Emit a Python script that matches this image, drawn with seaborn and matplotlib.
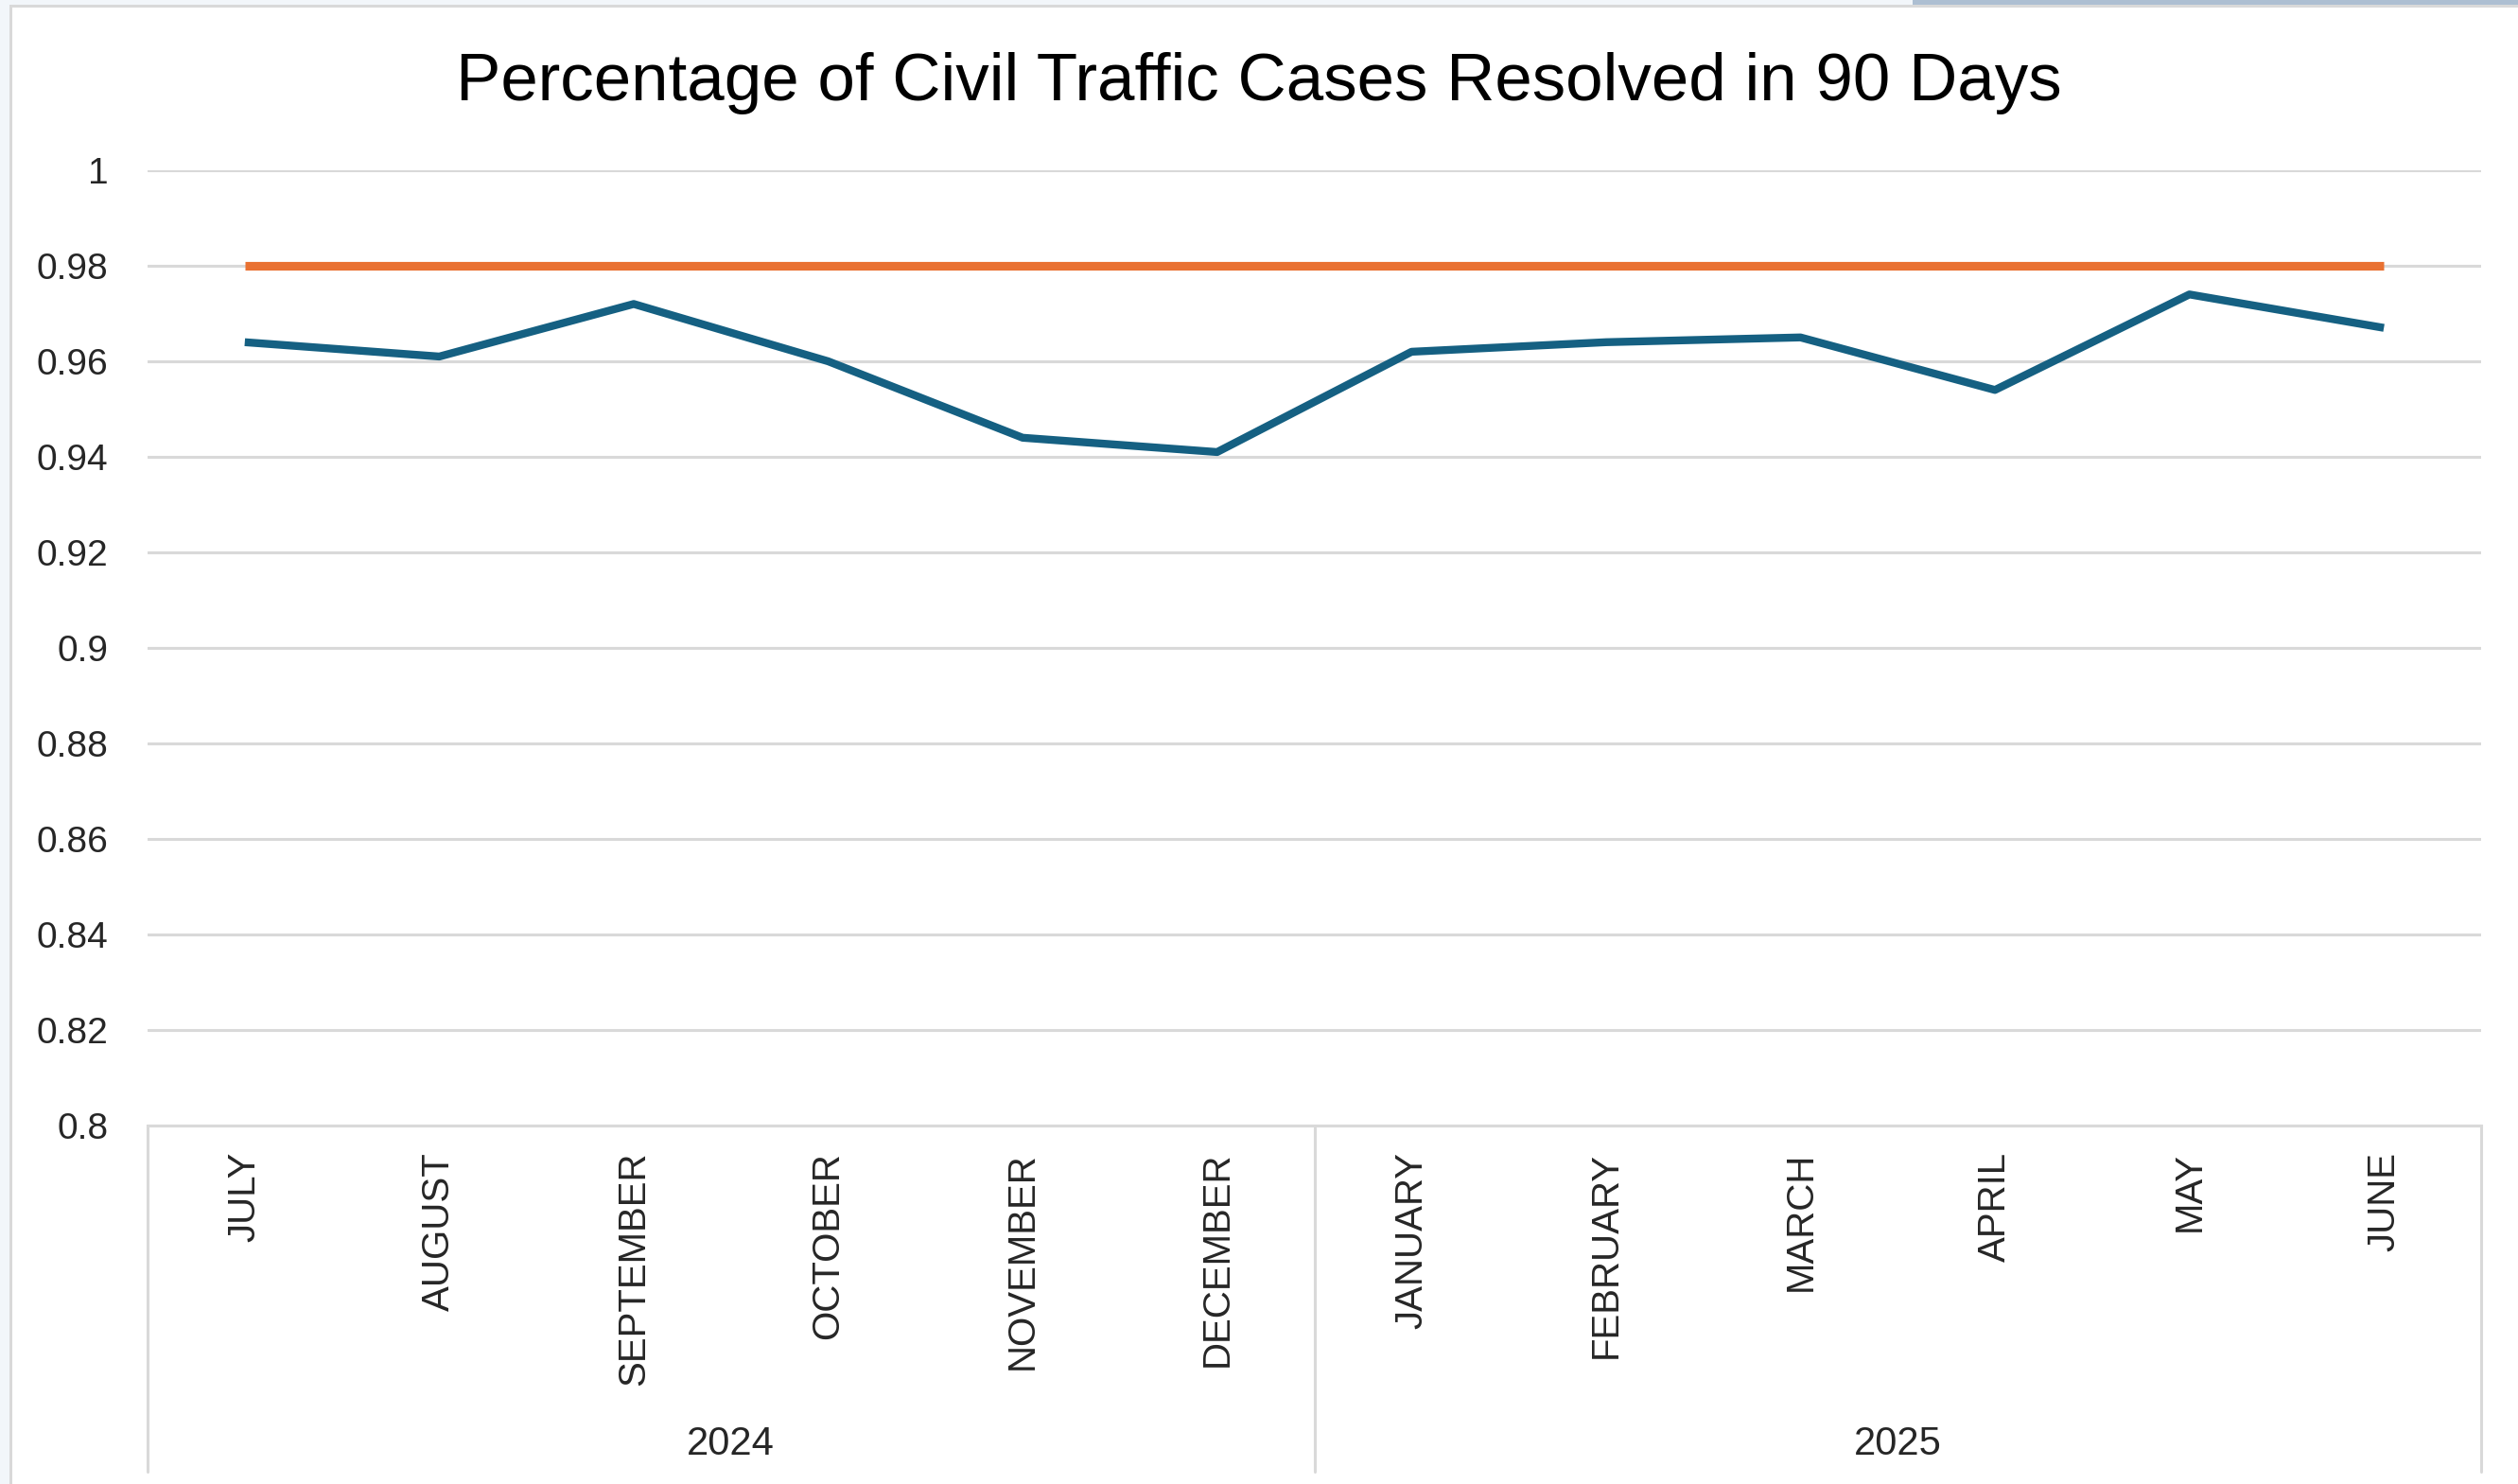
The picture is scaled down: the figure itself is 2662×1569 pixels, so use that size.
import matplotlib
matplotlib.use("Agg")
import matplotlib.pyplot as plt
from matplotlib.patches import Rectangle
import pandas as pd
import seaborn as sns

# chart data
months = ["JULY", "AUGUST", "SEPTEMBER", "OCTOBER", "NOVEMBER", "DECEMBER",
          "JANUARY", "FEBRUARY", "MARCH", "APRIL", "MAY", "JUNE"]
years = ["2024", "2025"]
months_per_year = [6, 6]
resolved = [0.964, 0.961, 0.972, 0.960, 0.944, 0.941,
            0.962, 0.964, 0.965, 0.954, 0.974, 0.967]
target = [0.98] * 12
y_ticks = [0.8, 0.82, 0.84, 0.86, 0.88, 0.9, 0.92, 0.94, 0.96, 0.98, 1]

BLUE = "#156082"
ORANGE = "#E97132"
GRID = "#D9D9D9"

sns.set_theme(style="white")
plt.rcParams["font.family"] = ["Liberation Sans", "DejaVu Sans"]

df = pd.DataFrame({"month": months, "resolved": resolved, "target": target})

fig = plt.figure(figsize=(26.62, 15.69), dpi=100)
ax = fig.add_axes([156 / 2662, 1 - 1190 / 1569, (2623 - 156) / 2662, (1190 - 180) / 1569])

sns.lineplot(data=df, x="month", y="target", sort=False, color=ORANGE,
             linewidth=6.6, ax=ax, solid_capstyle="butt", zorder=3)
sns.lineplot(data=df, x="month", y="resolved", sort=False, color=BLUE,
             linewidth=6.0, ax=ax, solid_capstyle="butt", zorder=4)

ax.set_xlim(-0.5, len(months) - 0.5)
ax.set_ylim(0.8, 1.0)
ax.set_yticks(y_ticks)
ax.set_yticklabels([f"{v:g}" for v in y_ticks], fontsize=28, color="#262626")
ax.set_xticks(range(len(months)))
ax.set_xticklabels(months, rotation=90, fontsize=29, color="#262626")
ax.tick_params(axis="y", length=0, pad=30)
ax.tick_params(axis="x", length=0, pad=20)
ax.set_xlabel("")
ax.set_ylabel("")

ax.yaxis.grid(True, color=GRID, linewidth=2.2)
ax.xaxis.grid(False)
ax.set_axisbelow(True)
for side in ["left", "right", "top"]:
    ax.spines[side].set_visible(False)
ax.spines["bottom"].set_color(GRID)
ax.spines["bottom"].set_linewidth(2.2)

# multi-level category axis: separators and year labels
trans = ax.get_xaxis_transform()
edge = -0.5
for yr, n in zip(years, months_per_year):
    ax.plot([edge, edge], [0, -0.362], transform=trans, color=GRID,
            linewidth=2.2, clip_on=False)
    ax.text(edge + n / 2, -0.334, yr, transform=trans, ha="center", va="center",
            fontsize=30, color="#262626")
    edge += n
ax.plot([edge, edge], [0, -0.362], transform=trans, color=GRID,
        linewidth=2.2, clip_on=False)

fig.text(0.5, 1 - 88 / 1569, "Percentage of Civil Traffic Cases Resolved in 90 Days",
         ha="center", va="center", fontsize=51, color="#000000")

# window frame around the chart
fig.add_artist(Rectangle((0, 0), 10 / 2662, 1, transform=fig.transFigure,
                         color="#F2F6FA", lw=0))
fig.add_artist(Rectangle((0, 1 - 5 / 1569), 1, 5 / 1569, transform=fig.transFigure,
                         color="#F2F6FA", lw=0))
fig.add_artist(Rectangle((2022 / 2662, 1 - 5 / 1569), 640 / 2662, 5 / 1569,
                         transform=fig.transFigure, color="#ADBFD2", lw=0))
fig.add_artist(Rectangle((10 / 2662, 0), 3 / 2662, 1 - 5 / 1569, transform=fig.transFigure,
                         color=GRID, lw=0))
fig.add_artist(Rectangle((10 / 2662, 1 - 8 / 1569), 1, 3 / 1569, transform=fig.transFigure,
                         color=GRID, lw=0))

fig.savefig("out.png", dpi=100, facecolor="white")
